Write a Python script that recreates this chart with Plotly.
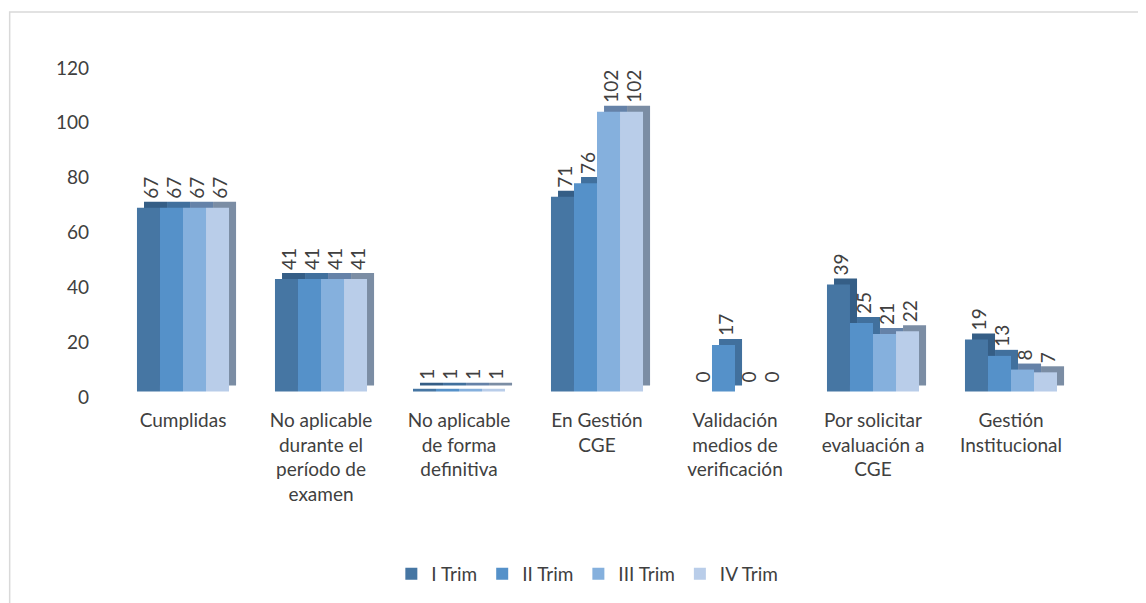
import plotly.graph_objects as go

categories = [
    "Cumplidas",
    "No aplicable<br>durante el<br>período de<br>examen",
    "No aplicable<br>de forma<br>definitiva",
    "En Gestión<br>CGE",
    "Validación<br>medios de<br>verificación",
    "Por solicitar<br>evaluación a<br>CGE",
    "Gestión<br>Institucional",
]
trim_1 = [67, 41, 1, 71, 0, 39, 19]
trim_2 = [67, 41, 1, 76, 17, 25, 13]
trim_3 = [67, 41, 1, 102, 0, 21, 8]
trim_4 = [67, 41, 1, 102, 0, 22, 7]
series_names = ["I Trim", "II Trim", "III Trim", "IV Trim"]
y_ticks = [0, 20, 40, 60, 80, 100, 120]

colors = ["#4676A3", "#5591C9", "#85B0DD", "#B9CDE9"]
depth_colors = ["#355E86", "#41709D", "#6582A8", "#7B8DA4"]
font_family = "Lato, 'Open Sans', sans-serif"
text_color = "#404040"

series = [trim_1, trim_2, trim_3, trim_4]
w = (1 - 0.333) / 4      # width of one bar in category units
depth_x = 0.051          # fake 3d depth (about 7px)
depth_y = 2.2            # fake 3d lift (about 6px)
floor = 2                # front faces sit a little above the axis floor

fig = go.Figure()

# back/side faces drawn first, shifted up and right
for i, (name, vals) in enumerate(zip(series_names, series)):
    fig.add_trace(go.Bar(
        x=categories, y=vals, base=floor + depth_y,
        offset=-2 * w + i * w + depth_x, width=w,
        marker=dict(color=depth_colors[i], line=dict(width=0)),
        showlegend=False, hoverinfo="skip",
    ))

# front faces
for i, (name, vals) in enumerate(zip(series_names, series)):
    fig.add_trace(go.Bar(
        x=categories, y=vals, base=floor, name=name,
        offset=-2 * w + i * w, width=w,
        marker=dict(color=colors[i], line=dict(width=0)),
    ))

# value labels above the top faces
for i, (name, vals) in enumerate(zip(series_names, series)):
    fig.add_trace(go.Bar(
        x=categories, y=vals, base=floor + depth_y,
        offset=-2 * w + i * w + 0.015, width=w,
        marker=dict(color="rgba(0,0,0,0)", line=dict(width=0)),
        text=vals, textposition="outside", textangle=-90,
        constraintext="none", cliponaxis=False,
        textfont=dict(size=19, color=text_color, family=font_family),
        showlegend=False, hoverinfo="skip",
    ))

# page body adds an 8px offset, so the figure is 8px smaller than the window
fig.update_layout(
    width=1138,
    height=595,
    barmode="overlay",
    plot_bgcolor="white",
    paper_bgcolor="white",
    font=dict(family=font_family, size=19, color=text_color),
    margin=dict(l=106, r=66, t=60, b=205),
    xaxis=dict(showgrid=False, showline=False, ticks="", tickfont=dict(size=19),
               ticklabelstandoff=10),
    yaxis=dict(range=[0, 120], tickvals=y_ticks, showgrid=False, zeroline=False,
               showline=False, ticks="", tickfont=dict(size=19), ticklabelstandoff=24),
    legend=dict(orientation="h", x=0.49, xanchor="center", y=-0.533, yanchor="middle",
                font=dict(size=19), itemwidth=30, traceorder="normal"),
    shapes=[dict(type="rect", xref="paper", yref="paper",
                 x0=-0.108, x1=1.2, y0=-1.0, y1=1.17,
                 line=dict(color="#D9D9D9", width=1.5), fillcolor="rgba(0,0,0,0)",
                 layer="below")],
)

fig.write_html("out.html")
